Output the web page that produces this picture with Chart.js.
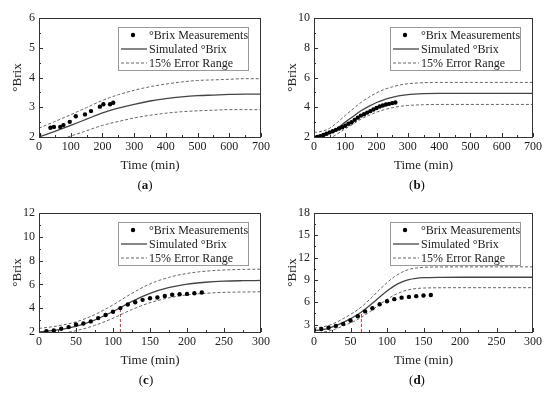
<!DOCTYPE html>
<html>
<head>
<meta charset="utf-8">
<script src="https://cdn.jsdelivr.net/npm/chart.js@4"></script>
<style>
  body { margin: 0; background: #fff; }
  #wrap { position: relative; width: 550px; height: 395px; }
  canvas { position: absolute; }
  .cap { position: absolute; width: 40px; margin-left: -20px; text-align: center;
         font: 13px "Liberation Serif", "Times New Roman", serif; color: #111; }
</style>
</head>
<body>
<div id="wrap">
  <canvas id="ca" width="275" height="197" style="left:0;top:0"></canvas>
  <canvas id="cb" width="275" height="197" style="left:275px;top:0"></canvas>
  <canvas id="cc" width="275" height="197" style="left:0;top:195px"></canvas>
  <canvas id="cd" width="275" height="197" style="left:275px;top:195px"></canvas>
  <div class="cap" style="left:145px;top:177px">(<b>a</b>)</div>
  <div class="cap" style="left:417px;top:177px">(<b>b</b>)</div>
  <div class="cap" style="left:146px;top:372px">(<b>c</b>)</div>
  <div class="cap" style="left:417px;top:372px">(<b>d</b>)</div>
</div>
<script>
// ---- data ----
const legendLabels = ["°Brix Measurements", "Simulated °Brix", "15% Error Range"];

// (a)
const timeA = [0, 36, 47, 67, 77, 97, 116, 145, 164, 192, 203, 224, 234];
const brixA = [2.08, 2.31, 2.34, 2.34, 2.40, 2.51, 2.70, 2.76, 2.87, 3.02, 3.10, 3.10, 3.15];
const simTimeA = [0, 50, 100, 150, 200, 250, 300, 350, 400, 450, 500, 550, 600, 650, 700];
const simA   = [2.00, 2.19, 2.39, 2.60, 2.81, 2.97, 3.10, 3.21, 3.29, 3.35, 3.39, 3.41, 3.43, 3.44, 3.44];
const upperA = [2.30, 2.52, 2.75, 2.99, 3.23, 3.42, 3.57, 3.69, 3.78, 3.85, 3.90, 3.92, 3.94, 3.96, 3.96];
const lowerA = [1.70, 1.86, 2.03, 2.21, 2.39, 2.52, 2.64, 2.73, 2.80, 2.85, 2.88, 2.90, 2.92, 2.92, 2.92];
const xTicksA = [0, 100, 200, 300, 400, 500, 600, 700];
const yTicksA = [2, 3, 4, 5, 6];

// (b)
const timeB = [10, 20, 30, 40, 50, 60, 70, 80, 90, 100, 110, 120, 130, 140, 150, 160, 170, 180, 190, 200, 210, 220, 230, 240, 250, 260];
const brixB = [2.01, 2.05, 2.13, 2.22, 2.31, 2.39, 2.48, 2.57, 2.66, 2.76, 2.89, 2.99, 3.15, 3.30, 3.44, 3.53, 3.64, 3.74, 3.85, 3.95, 4.05, 4.12, 4.18, 4.23, 4.28, 4.32];
const simTimeB = [0, 25, 50, 75, 100, 125, 150, 175, 200, 225, 250, 275, 300, 350, 400, 500, 600, 700];
const simB   = [2.00, 2.07, 2.25, 2.60, 3.00, 3.38, 3.76, 4.06, 4.32, 4.52, 4.67, 4.78, 4.85, 4.91, 4.93, 4.93, 4.93, 4.93];
const upperB = [2.30, 2.38, 2.59, 2.99, 3.45, 3.89, 4.32, 4.67, 4.97, 5.20, 5.37, 5.50, 5.58, 5.65, 5.67, 5.67, 5.67, 5.67];
const lowerB = [1.70, 1.76, 1.91, 2.21, 2.55, 2.87, 3.20, 3.45, 3.67, 3.84, 3.97, 4.06, 4.12, 4.17, 4.19, 4.19, 4.19, 4.19];
const xTicksB = [0, 100, 200, 300, 400, 500, 600, 700];
const yTicksB = [2, 4, 6, 8, 10];

// (c)
const timeC = [10, 20, 30, 40, 50, 60, 70, 80, 90, 100, 110, 120, 130, 140, 150, 160, 170, 180, 190, 200, 210, 220];
const brixC = [2.06, 2.13, 2.27, 2.41, 2.63, 2.72, 2.89, 3.17, 3.43, 3.70, 4.01, 4.31, 4.50, 4.70, 4.84, 4.90, 5.03, 5.13, 5.18, 5.20, 5.26, 5.32];
const simTimeC = [0, 25, 50, 75, 100, 125, 150, 175, 200, 225, 250, 275, 300];
const simC   = [2.00, 2.18, 2.48, 3.00, 3.72, 4.55, 5.25, 5.72, 6.02, 6.18, 6.27, 6.31, 6.33];
const upperC = [2.30, 2.51, 2.85, 3.45, 4.28, 5.23, 6.04, 6.58, 6.92, 7.11, 7.21, 7.26, 7.28];
const lowerC = [1.70, 1.85, 2.11, 2.55, 3.16, 3.87, 4.46, 4.86, 5.12, 5.25, 5.33, 5.36, 5.38];
const markC = [110, 2, 4.1];   // time, from, to
const xTicksC = [0, 50, 100, 150, 200, 250, 300];
const yTicksC = [2, 4, 6, 8, 10, 12];

// (d)
const timeD = [0, 10, 20, 30, 40, 50, 60, 70, 80, 90, 100, 110, 120, 130, 140, 150, 160];
const brixD = [2.28, 2.40, 2.58, 2.82, 3.09, 3.54, 4.12, 4.77, 5.20, 5.73, 6.13, 6.42, 6.62, 6.72, 6.82, 6.90, 6.98];
const simTimeD = [0, 10, 20, 30, 40, 50, 60, 70, 80, 90, 100, 110, 120, 130, 140, 150, 175, 200, 250, 300];
const simD   = [2.20, 2.30, 2.50, 2.85, 3.30, 3.80, 4.35, 5.05, 5.85, 6.70, 7.50, 8.20, 8.70, 9.05, 9.22, 9.30, 9.35, 9.36, 9.36, 9.36];
const upperD = [2.53, 2.65, 2.88, 3.28, 3.80, 4.37, 5.00, 5.81, 6.73, 7.71, 8.63, 9.43, 10.01, 10.41, 10.60, 10.70, 10.75, 10.76, 10.76, 10.76];
const lowerD = [1.87, 1.96, 2.13, 2.42, 2.81, 3.23, 3.70, 4.29, 4.97, 5.70, 6.38, 6.97, 7.40, 7.69, 7.84, 7.91, 7.95, 7.96, 7.96, 7.96];
const markD = [65, 2, 4.6];
const xTicksD = [0, 50, 100, 150, 200, 250, 300];
const yTicksD = [3, 6, 9, 12, 15, 18];

const serif = '"Liberation Serif", "Times New Roman", serif';
Chart.defaults.font.family = serif;
Chart.defaults.font.size = 12;
Chart.defaults.color = "#222";

const pts = (xs, ys) => xs.map((x, i) => ({ x, y: ys[i] }));

// box frame, inward ticks and the boxed legend
const framePlugin = {
  id: "frame",
  afterDatasetsDraw(chart, args, opts) {
    const { ctx, chartArea: a, scales } = chart;
    ctx.save();
    ctx.strokeStyle = "#333";
    ctx.lineWidth = 1;
    ctx.strokeRect(Math.round(a.left) + 0.5, Math.round(a.top) + 0.5,
                   Math.round(a.right - a.left) - 1, Math.round(a.bottom - a.top));
    // ticks
    const xs = scales.x, ys = scales.y;
    ctx.beginPath();
    const tickX = (v, len) => {
      const px = Math.round(xs.getPixelForValue(v)) + 0.5;
      ctx.moveTo(px, a.bottom); ctx.lineTo(px, a.bottom - len);
    };
    const tickY = (v, len) => {
      const py = Math.round(ys.getPixelForValue(v)) + 0.5;
      ctx.moveTo(a.left, py); ctx.lineTo(a.left + len, py);
    };
    for (let v = xs.min; v <= xs.max + 1e-9; v += opts.minorX) {
      const major = xs.ticks.some(t => Math.abs(t.value - v) < 1e-9);
      tickX(v, major ? 4 : 2);
    }
    for (let v = opts.minorY0; v <= ys.max + 1e-9; v += opts.minorY) {
      if (v < ys.min) continue;
      const major = ys.ticks.some(t => Math.abs(t.value - v) < 1e-9);
      tickY(v, major ? 4 : 2);
    }
    ctx.stroke();

    // legend
    const bw = 130, bh = 43;
    const bx = a.right - 13 - bw, by = a.top + 9;
    ctx.fillStyle = "#fff";
    ctx.fillRect(bx, by, bw, bh);
    ctx.strokeStyle = "#999";
    ctx.strokeRect(Math.round(bx) + 0.5, Math.round(by) + 0.5, bw, bh);
    const rows = [by + 8, by + 22, by + 36];
    const ds = chart.data.datasets;
    // dot
    ctx.fillStyle = "#000";
    ctx.beginPath();
    ctx.arc(bx + 15, rows[0], 2.2, 0, Math.PI * 2);
    ctx.fill();
    // solid
    ctx.strokeStyle = ds[1].borderColor;
    ctx.lineWidth = ds[1].borderWidth;
    ctx.beginPath(); ctx.moveTo(bx + 3, rows[1]); ctx.lineTo(bx + 29, rows[1]); ctx.stroke();
    // dashed
    ctx.strokeStyle = ds[2].borderColor;
    ctx.lineWidth = ds[2].borderWidth;
    ctx.setLineDash(ds[2].borderDash);
    ctx.beginPath(); ctx.moveTo(bx + 3, rows[2]); ctx.lineTo(bx + 29, rows[2]); ctx.stroke();
    ctx.setLineDash([]);
    ctx.fillStyle = "#222";
    ctx.font = "12px " + serif;
    ctx.textBaseline = "middle";
    ctx.textAlign = "left";
    legendLabels.forEach((t, i) => ctx.fillText(t, bx + 31, rows[i] + 0.5));
    ctx.restore();
  }
};

function makePanel(id, p) {
  const datasets = [
    { data: pts(p.time, p.brix), showLine: false, pointRadius: 2.2, pointBackgroundColor: "#000",
      pointBorderWidth: 0, order: 0 },
    { data: pts(p.simTime, p.sim), showLine: true, borderColor: "#444", borderWidth: 1.3,
      pointRadius: 0, cubicInterpolationMode: "monotone", order: 1 },
    { data: pts(p.simTime, p.upper), showLine: true, borderColor: "#666", borderWidth: 1,
      borderDash: [3, 2], pointRadius: 0, cubicInterpolationMode: "monotone", order: 2 },
    { data: pts(p.simTime, p.lower), showLine: true, borderColor: "#666", borderWidth: 1,
      borderDash: [3, 2], pointRadius: 0, cubicInterpolationMode: "monotone", order: 2 }
  ];
  if (p.mark) {
    datasets.push({ data: [{ x: p.mark[0], y: p.mark[1] }, { x: p.mark[0], y: p.mark[2] }],
      showLine: true, borderColor: "#e0303a", borderWidth: 1, borderDash: [3, 2], pointRadius: 0, order: 3 });
  }
  new Chart(document.getElementById(id), {
    type: "scatter",
    data: { datasets },
    options: {
      responsive: false,
      animation: false,
      layout: { padding: { top: 18, right: p.right, left: 0, bottom: 0 } },
      scales: {
        x: {
          type: "linear", min: 0, max: p.xTicks[p.xTicks.length - 1],
          grid: { display: false, drawTicks: false }, border: { display: false },
          ticks: { padding: 3, maxRotation: 0, autoSkip: false, font: { size: 12 } },
          afterBuildTicks: s => { s.ticks = p.xTicks.map(v => ({ value: v })); },
          afterFit: s => { s.height = 60; },
          title: { display: true, text: "Time (min)", font: { size: 13 }, padding: { top: 0, bottom: 24 } }
        },
        y: {
          type: "linear", min: p.yMin, max: p.yTicks[p.yTicks.length - 1],
          grid: { display: false, drawTicks: false }, border: { display: false },
          ticks: { padding: 4, autoSkip: false, font: { size: 12 } },
          afterBuildTicks: s => { s.ticks = p.yTicks.map(v => ({ value: v })); },
          afterFit: s => { s.width = 39; },
          title: { display: true, text: "°Brix", font: { size: 13 }, padding: { top: 10, bottom: 0 } }
        }
      },
      plugins: {
        legend: { display: false },
        tooltip: { enabled: false },
        frame: { minorX: p.minorX, minorY: p.minorY, minorY0: p.minorY0 }
      }
    },
    plugins: [framePlugin]
  });
}

makePanel("ca", { time: timeA, brix: brixA, simTime: simTimeA, sim: simA, upper: upperA, lower: lowerA,
  xTicks: xTicksA, yTicks: yTicksA, yMin: 2, minorX: 50, minorY: 0.5, minorY0: 2, right: 14 });
makePanel("cb", { time: timeB, brix: brixB, simTime: simTimeB, sim: simB, upper: upperB, lower: lowerB,
  xTicks: xTicksB, yTicks: yTicksB, yMin: 2, minorX: 50, minorY: 1, minorY0: 2, right: 17 });
makePanel("cc", { time: timeC, brix: brixC, simTime: simTimeC, sim: simC, upper: upperC, lower: lowerC,
  mark: markC, xTicks: xTicksC, yTicks: yTicksC, yMin: 2, minorX: 25, minorY: 1, minorY0: 2, right: 14 });
makePanel("cd", { time: timeD, brix: brixD, simTime: simTimeD, sim: simD, upper: upperD, lower: lowerD,
  mark: markD, xTicks: xTicksD, yTicks: yTicksD, yMin: 2, minorX: 25, minorY: 1.5, minorY0: 3, right: 17 });
</script>
</body>
</html>
